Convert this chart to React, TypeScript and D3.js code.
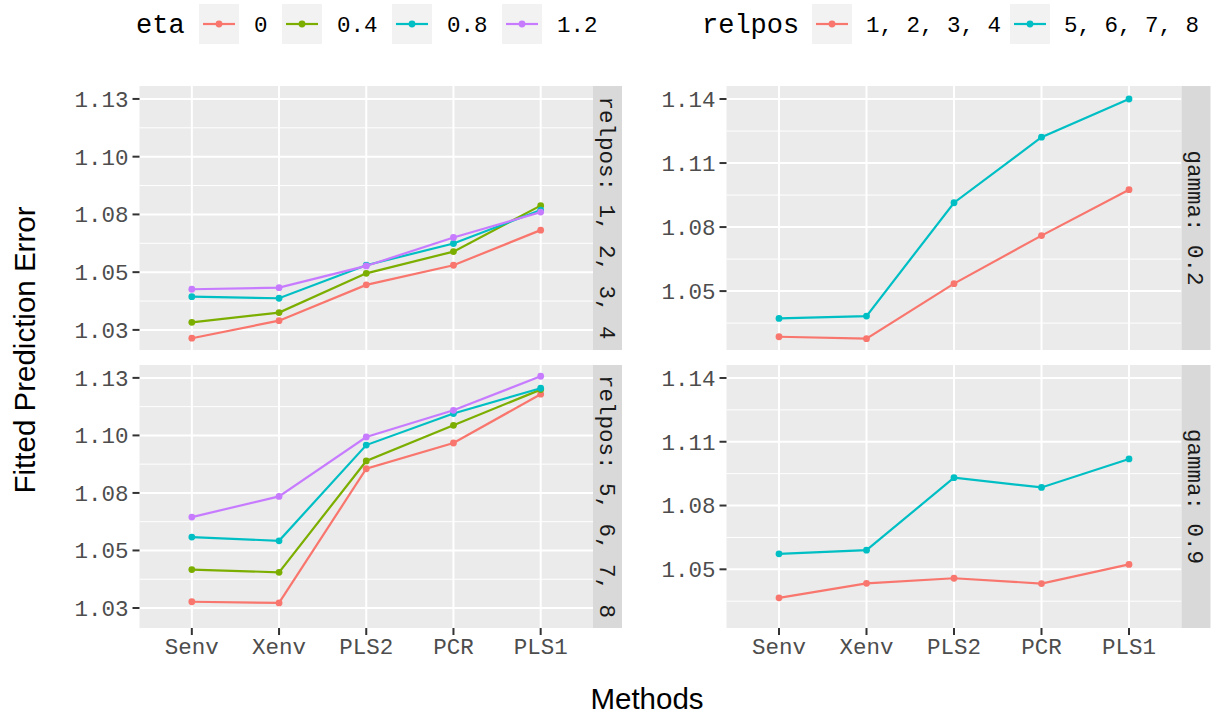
import React from "react";
import * as d3 from "d3";

const methods = ["Senv", "Xenv", "PLS2", "PCR", "PLS1"];
const etaLevels = ["0", "0.4", "0.8", "1.2"];
const etaColors = ["#F8766D", "#7CAE00", "#00BFC4", "#C77CFF"];
const relposLevels = ["1, 2, 3, 4", "5, 6, 7, 8"];
const relposColors = ["#F8766D", "#00BFC4"];

// Left plot: relpos facets, series by eta
const leftTopEta0 = [1.0214, 1.029, 1.0445, 1.053, 1.0682];
const leftTopEta04 = [1.0283, 1.0325, 1.0495, 1.0589, 1.0788];
const leftTopEta08 = [1.0394, 1.0387, 1.053, 1.0624, 1.0769];
const leftTopEta12 = [1.0426, 1.0433, 1.0527, 1.065, 1.076];
const leftBotEta0 = [1.0277, 1.0272, 1.0855, 1.0967, 1.1179];
const leftBotEta04 = [1.0417, 1.0405, 1.0889, 1.1044, 1.1199];
const leftBotEta08 = [1.0558, 1.0542, 1.0958, 1.1095, 1.1205];
const leftBotEta12 = [1.0645, 1.0735, 1.0993, 1.1109, 1.1257];

// Right plot: gamma facets, series by relpos
const rightTopRel1 = [1.0286, 1.0277, 1.0535, 1.076, 1.0975];
const rightTopRel2 = [1.0372, 1.0383, 1.0914, 1.1221, 1.14];
const rightBotRel1 = [1.0366, 1.0434, 1.0458, 1.0433, 1.0523];
const rightBotRel2 = [1.0573, 1.059, 1.0931, 1.0885, 1.1019];

const leftTickValues = [1.025, 1.05, 1.075, 1.1, 1.125];
const leftTickLabels = ["1.03", "1.05", "1.08", "1.10", "1.13"];
const rightTickValues = [1.05, 1.08, 1.11, 1.14];
const rightTickLabels = ["1.05", "1.08", "1.11", "1.14"];

const leftStrips = ["relpos: 1, 2, 3, 4", "relpos: 5, 6, 7, 8"];
const rightStrips = ["gamma: 0.2", "gamma: 0.9"];

const MONO = "'Liberation Mono', 'DejaVu Sans Mono', monospace";
const SANS = "'Liberation Sans', Arial, sans-serif";
const TICK_SIZE = 22.5;

type Series = { values: number[]; color: string };

function Panel(props: {
  x0: number; x1: number; y0: number; y1: number;
  domain: [number, number];
  ticks: number[]; labels: string[];
  series: Series[];
  strip: string;
  showX: boolean;
}) {
  const { x0, x1, y0, y1, domain, ticks, labels, series, strip, showX } = props;
  const x = d3.scalePoint<string>().domain(methods).range([x0, x1]).padding(0.6);
  const y = d3.scaleLinear().domain(domain).range([y1, y0]);
  const minor: number[] = [];
  const step = ticks[1] - ticks[0];
  for (let i = -1; i < ticks.length; i++) {
    const v = ticks[0] + step * (i + 0.5);
    if (v > domain[0] && v < domain[1]) minor.push(v);
  }
  const line = d3.line<number>().x((_, i) => x(methods[i]) as number).y((d) => y(d));
  const stripW = 29;
  return (
    <g>
      <rect x={x0} y={y0} width={x1 - x0} height={y1 - y0} fill="#EBEBEB" />
      {minor.map((v) => (
        <line key={"mn" + v} x1={x0} x2={x1} y1={y(v)} y2={y(v)} stroke="#FFFFFF" strokeWidth={1} />
      ))}
      {ticks.map((v) => (
        <line key={"mj" + v} x1={x0} x2={x1} y1={y(v)} y2={y(v)} stroke="#FFFFFF" strokeWidth={2} />
      ))}
      {methods.map((m) => (
        <line key={"vx" + m} x1={x(m)} x2={x(m)} y1={y0} y2={y1} stroke="#FFFFFF" strokeWidth={2} />
      ))}
      {series.map((s, i) => (
        <g key={"s" + i}>
          <path d={line(s.values) || ""} fill="none" stroke={s.color} strokeWidth={2.2} />
          {s.values.map((v, j) => (
            <circle key={j} cx={x(methods[j])} cy={y(v)} r={3.4} fill={s.color} />
          ))}
        </g>
      ))}
      {ticks.map((v, i) => (
        <g key={"yt" + v}>
          <line x1={x0 - 7} x2={x0} y1={y(v)} y2={y(v)} stroke="#333333" strokeWidth={2} />
          <text x={x0 - 11} y={y(v)} dy="0.35em" textAnchor="end" fontFamily={MONO} fontSize={TICK_SIZE} fill="#4D4D4D">
            {labels[i]}
          </text>
        </g>
      ))}
      {showX &&
        methods.map((m) => (
          <g key={"xt" + m}>
            <line x1={x(m)} x2={x(m)} y1={y1} y2={y1 + 7} stroke="#333333" strokeWidth={2} />
            <text x={x(m)} y={y1 + 26} textAnchor="middle" fontFamily={MONO} fontSize={TICK_SIZE} fill="#4D4D4D">
              {m}
            </text>
          </g>
        ))}
      <rect x={x1} y={y0} width={stripW} height={y1 - y0} fill="#D9D9D9" />
      <text
        transform={`translate(${x1 + stripW / 2},${(y0 + y1) / 2}) rotate(90)`}
        textAnchor="middle"
        dy="0.35em"
        fontFamily={MONO}
        fontSize={TICK_SIZE}
        fill="#1A1A1A"
      >
        {strip}
      </text>
    </g>
  );
}

function LegendKey(props: { x: number; color: string }) {
  const { x, color } = props;
  return (
    <g>
      <rect x={x} y={4} width={40} height={40} fill="#F2F2F2" />
      <line x1={x + 4} x2={x + 36} y1={24} y2={24} stroke={color} strokeWidth={2.2} />
      <circle cx={x + 20} cy={24} r={3.4} fill={color} />
    </g>
  );
}

export default function App() {
  const W = 1225, H = 715;
  const leftX0 = 139.5, leftX1 = 593;
  const rightX0 = 726.5, rightX1 = 1181.5;
  const topY0 = 86, topY1 = 350, botY0 = 365, botY1 = 628;
  const leftDomain: [number, number] = [1.0163, 1.1306];
  const rightDomain: [number, number] = [1.0224, 1.1461];

  const leftTop = [leftTopEta0, leftTopEta04, leftTopEta08, leftTopEta12].map((v, i) => ({ values: v, color: etaColors[i] }));
  const leftBot = [leftBotEta0, leftBotEta04, leftBotEta08, leftBotEta12].map((v, i) => ({ values: v, color: etaColors[i] }));
  const rightTop = [rightTopRel1, rightTopRel2].map((v, i) => ({ values: v, color: relposColors[i] }));
  const rightBot = [rightBotRel1, rightBotRel2].map((v, i) => ({ values: v, color: relposColors[i] }));

  const etaKeyX = [199, 282, 392, 502];
  const etaLabelX = [254, 337, 447, 557];
  const relKeyX = [812, 1010];
  const relLabelX = [866, 1064];

  return (
    <svg width={W} height={H} style={{ display: "block", position: "absolute", left: 0, top: 0 }}>
      <rect width={W} height={H} fill="#FFFFFF" />
      {/* legends */}
      <text x={136} y={24} dy="0.35em" fontFamily={MONO} fontSize={27} fill="#000000">eta</text>
      {etaLevels.map((lab, i) => (
        <g key={"el" + i}>
          <LegendKey x={etaKeyX[i]} color={etaColors[i]} />
          <text x={etaLabelX[i]} y={24} dy="0.35em" fontFamily={MONO} fontSize={TICK_SIZE} fill="#000000">{lab}</text>
        </g>
      ))}
      <text x={702} y={24} dy="0.35em" fontFamily={MONO} fontSize={27} fill="#000000">relpos</text>
      {relposLevels.map((lab, i) => (
        <g key={"rl" + i}>
          <LegendKey x={relKeyX[i]} color={relposColors[i]} />
          <text x={relLabelX[i]} y={24} dy="0.35em" fontFamily={MONO} fontSize={TICK_SIZE} fill="#000000">{lab}</text>
        </g>
      ))}

      <Panel x0={leftX0} x1={leftX1} y0={topY0} y1={topY1} domain={leftDomain} ticks={leftTickValues} labels={leftTickLabels} series={leftTop} strip={leftStrips[0]} showX={false} />
      <Panel x0={leftX0} x1={leftX1} y0={botY0} y1={botY1} domain={leftDomain} ticks={leftTickValues} labels={leftTickLabels} series={leftBot} strip={leftStrips[1]} showX={true} />
      <Panel x0={rightX0} x1={rightX1} y0={topY0} y1={topY1} domain={rightDomain} ticks={rightTickValues} labels={rightTickLabels} series={rightTop} strip={rightStrips[0]} showX={false} />
      <Panel x0={rightX0} x1={rightX1} y0={botY0} y1={botY1} domain={rightDomain} ticks={rightTickValues} labels={rightTickLabels} series={rightBot} strip={rightStrips[1]} showX={true} />

      <text transform={`translate(35,350) rotate(-90)`} textAnchor="middle" fontFamily={SANS} fontSize={29.5} fill="#000000">
        Fitted Prediction Error
      </text>
      <text x={647} y={709} textAnchor="middle" fontFamily={SANS} fontSize={29.5} fill="#000000">
        Methods
      </text>
    </svg>
  );
}
